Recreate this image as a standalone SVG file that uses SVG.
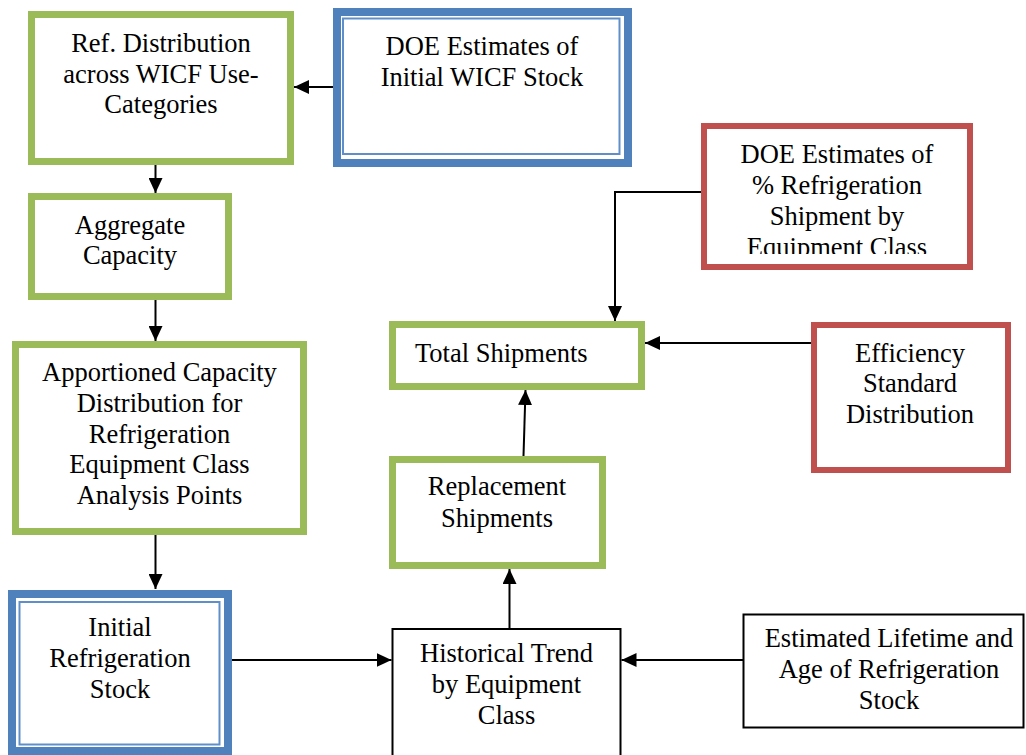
<svg xmlns="http://www.w3.org/2000/svg" width="1026" height="755" viewBox="0 0 1026 755">
  <style>
    text { font-family: "Liberation Serif", "Times New Roman", serif; font-size: 26.5px; fill: #000; }
    .mid { text-anchor: middle; }
    .green { fill: #fff; stroke: #9BBB59; stroke-width: 7; }
    .red { fill: #fff; stroke: #C0504D; stroke-width: 6; }
    .blueOuter { fill: #fff; stroke: #4F81BD; stroke-width: 8; }
    .blueInner { fill: none; stroke: #5F8FC8; stroke-width: 2; }
    .plain { fill: #fff; stroke: #000; stroke-width: 2; }
    .conn { fill: none; stroke: #000; stroke-width: 2; marker-end: url(#arrow); }
  </style>
  <defs>
    <marker id="arrow" markerUnits="userSpaceOnUse" markerWidth="15" markerHeight="14" refX="15" refY="7" orient="auto">
      <path d="M0,0 L15,7 L0,14 Z" fill="#000"/>
    </marker>
    <clipPath id="clipPct">
      <rect x="707" y="129" width="260" height="125"/>
    </clipPath>
  </defs>
  <rect width="1026" height="755" fill="#fff"/>

  <g id="ref-distribution">
    <rect class="green" x="31.5" y="14.5" width="259" height="147"/>
    <text class="mid" x="161" y="52"><tspan x="161">Ref. Distribution</tspan><tspan x="161" y="83">across WICF Use-</tspan><tspan x="161" y="113">Categories</tspan></text>
  </g>

  <g id="doe-initial-stock">
    <rect class="blueOuter" x="337" y="12" width="291" height="151"/>
    <rect class="blueInner" x="343" y="18.5" width="276.5" height="135.5"/>
    <text class="mid" x="482" y="55"><tspan x="482">DOE Estimates of</tspan><tspan x="482" y="86">Initial WICF Stock</tspan></text>
  </g>

  <g id="aggregate-capacity">
    <rect class="green" x="31.5" y="196.5" width="197" height="100"/>
    <text class="mid" x="130" y="234"><tspan x="130">Aggregate</tspan><tspan x="130" y="264">Capacity</tspan></text>
  </g>

  <g id="apportioned-capacity">
    <rect class="green" x="15.5" y="344.5" width="288" height="187"/>
    <text class="mid" x="159.5" y="381"><tspan x="159.5">Apportioned Capacity</tspan><tspan x="159.5" y="412">Distribution for</tspan><tspan x="159.5" y="443">Refrigeration</tspan><tspan x="159.5" y="473">Equipment Class</tspan><tspan x="159.5" y="504">Analysis Points</tspan></text>
  </g>

  <g id="initial-stock">
    <rect class="blueOuter" x="12" y="594" width="216" height="157"/>
    <rect class="blueInner" x="19.5" y="602" width="200" height="142.5"/>
    <text class="mid" x="120" y="636"><tspan x="120">Initial</tspan><tspan x="120" y="667">Refrigeration</tspan><tspan x="120" y="698">Stock</tspan></text>
  </g>

  <g id="doe-pct-shipment">
    <rect class="red" x="704" y="126" width="266" height="141"/>
    <text class="mid" x="837" y="163" clip-path="url(#clipPct)"><tspan x="837">DOE Estimates of</tspan><tspan x="837" y="194">% Refrigeration</tspan><tspan x="837" y="225">Shipment by</tspan><tspan x="837" y="256">Equipment Class</tspan></text>
  </g>

  <g id="total-shipments">
    <rect class="green" x="392.5" y="324.5" width="249" height="62"/>
    <text x="415" y="362">Total Shipments</text>
  </g>

  <g id="efficiency-standard">
    <rect class="red" x="814" y="325" width="194" height="145"/>
    <text class="mid" x="910" y="362"><tspan x="910">Efficiency</tspan><tspan x="910" y="392">Standard</tspan><tspan x="910" y="423">Distribution</tspan></text>
  </g>

  <g id="replacement-shipments">
    <rect class="green" x="392.5" y="459.5" width="210" height="106"/>
    <text class="mid" x="497" y="495"><tspan x="497">Replacement</tspan><tspan x="497" y="527">Shipments</tspan></text>
  </g>

  <g id="historical-trend">
    <rect class="plain" x="392.5" y="629" width="228" height="140"/>
    <text class="mid" x="506.5" y="662"><tspan x="506.5">Historical Trend</tspan><tspan x="506.5" y="693">by Equipment</tspan><tspan x="506.5" y="724">Class</tspan></text>
  </g>

  <g id="lifetime-age">
    <rect class="plain" x="743.5" y="614.5" width="280" height="113"/>
    <text class="mid" x="889" y="647"><tspan x="889">Estimated Lifetime and</tspan><tspan x="889" y="678">Age of Refrigeration</tspan><tspan x="889" y="709">Stock</tspan></text>
  </g>

  <g id="connectors">
    <line class="conn" x1="333" y1="87" x2="294" y2="87"/>
    <line class="conn" x1="155.5" y1="165" x2="155.5" y2="193"/>
    <line class="conn" x1="155.5" y1="300" x2="155.5" y2="341"/>
    <line class="conn" x1="155.5" y1="535" x2="155.5" y2="589"/>
    <polyline class="conn" points="701,192 615,192 615,321"/>
    <line class="conn" x1="811" y1="343" x2="645" y2="343"/>
    <line class="conn" x1="523.5" y1="456" x2="525.5" y2="390"/>
    <line class="conn" x1="509.5" y1="629" x2="509.5" y2="569"/>
    <line class="conn" x1="232" y1="660" x2="391.5" y2="660"/>
    <line class="conn" x1="743.5" y1="660" x2="621.5" y2="660"/>
  </g>
</svg>
